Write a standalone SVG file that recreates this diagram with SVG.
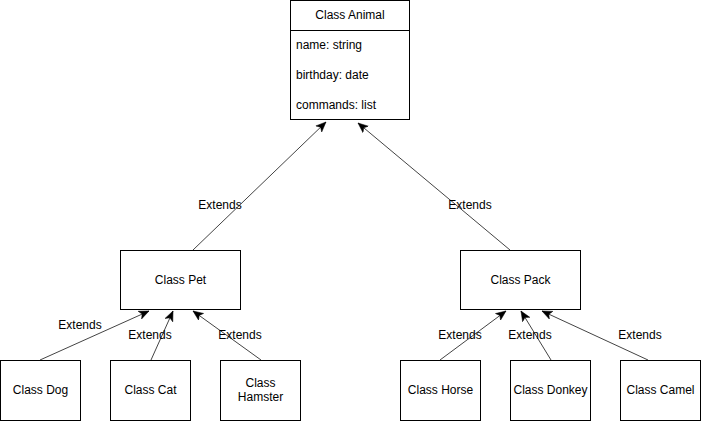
<svg xmlns="http://www.w3.org/2000/svg" width="701" height="421" viewBox="0 0 701 421">
<style>
  .box { fill: #ffffff; stroke: #000000; stroke-width: 1; }
  .t { font-family: "Liberation Sans", Arial, sans-serif; font-size: 12px; fill: #000000; }
  .c { text-anchor: middle; }
  .edge { stroke: #444444; stroke-width: 1; fill: none; marker-end: url(#arrow); }
  .lbl { font-family: "Liberation Sans", Arial, sans-serif; font-size: 12px; fill: #000000; text-anchor: middle; }
</style>
<defs>
  <marker id="arrow" markerUnits="userSpaceOnUse" markerWidth="12" markerHeight="10" refX="10" refY="5" orient="auto" viewBox="0 0 12 10">
    <path d="M0,0.8 L10,5 L0,9.2 L2.5,5 Z" fill="#000000" stroke="#000000" stroke-width="0.5"/>
  </marker>
</defs>
<rect width="701" height="421" fill="#ffffff"/>

<g id="connectors">
  <line class="edge" x1="193" y1="250" x2="326" y2="122"/>
  <line class="edge" x1="510" y1="250" x2="358" y2="123"/>
  <line class="edge" x1="40" y1="360" x2="149" y2="311"/>
  <line class="edge" x1="151" y1="360" x2="173" y2="311"/>
  <line class="edge" x1="261" y1="360" x2="193" y2="311"/>
  <line class="edge" x1="440" y1="360" x2="506" y2="311"/>
  <line class="edge" x1="551" y1="360" x2="521" y2="311"/>
  <line class="edge" x1="648" y1="360" x2="542" y2="311"/>
  <text class="lbl" x="220" y="209">Extends</text>
  <text class="lbl" x="470" y="209">Extends</text>
  <text class="lbl" x="80" y="329">Extends</text>
  <text class="lbl" x="150" y="339">Extends</text>
  <text class="lbl" x="240" y="339">Extends</text>
  <text class="lbl" x="460" y="339">Extends</text>
  <text class="lbl" x="530" y="339">Extends</text>
  <text class="lbl" x="640" y="339">Extends</text>
</g>

<g id="animal">
  <rect class="box" x="290.5" y="0.5" width="119" height="119"/>
  <line x1="290.5" y1="30.5" x2="409.5" y2="30.5" stroke="#000000" stroke-width="1"/>
  <text class="t c" x="350" y="19">Class Animal</text>
  <text class="t" x="296" y="49">name: string</text>
  <text class="t" x="296" y="79">birthday: date</text>
  <text class="t" x="296" y="109">commands: list</text>
</g>

<g id="pet">
  <rect class="box" x="120.5" y="250.5" width="120" height="59"/>
  <text class="t c" x="180.5" y="284">Class Pet</text>
</g>

<g id="pack">
  <rect class="box" x="460.5" y="250.5" width="120" height="59"/>
  <text class="t c" x="520.5" y="284">Class Pack</text>
</g>

<g id="dog">
  <rect class="box" x="0.5" y="360.5" width="80" height="60"/>
  <text class="t c" x="40.5" y="394">Class Dog</text>
</g>

<g id="cat">
  <rect class="box" x="110.5" y="360.5" width="80" height="60"/>
  <text class="t c" x="150.5" y="394">Class Cat</text>
</g>

<g id="hamster">
  <rect class="box" x="220.5" y="360.5" width="80" height="60"/>
  <text class="t c" x="260.5" y="387">Class</text>
  <text class="t c" x="260.5" y="401">Hamster</text>
</g>

<g id="horse">
  <rect class="box" x="400.5" y="360.5" width="80" height="60"/>
  <text class="t c" x="440.5" y="394">Class Horse</text>
</g>

<g id="donkey">
  <rect class="box" x="510.5" y="360.5" width="80" height="60"/>
  <text class="t c" x="550.5" y="394">Class Donkey</text>
</g>

<g id="camel">
  <rect class="box" x="620.5" y="360.5" width="80" height="60"/>
  <text class="t c" x="660.5" y="394">Class Camel</text>
</g>
</svg>
